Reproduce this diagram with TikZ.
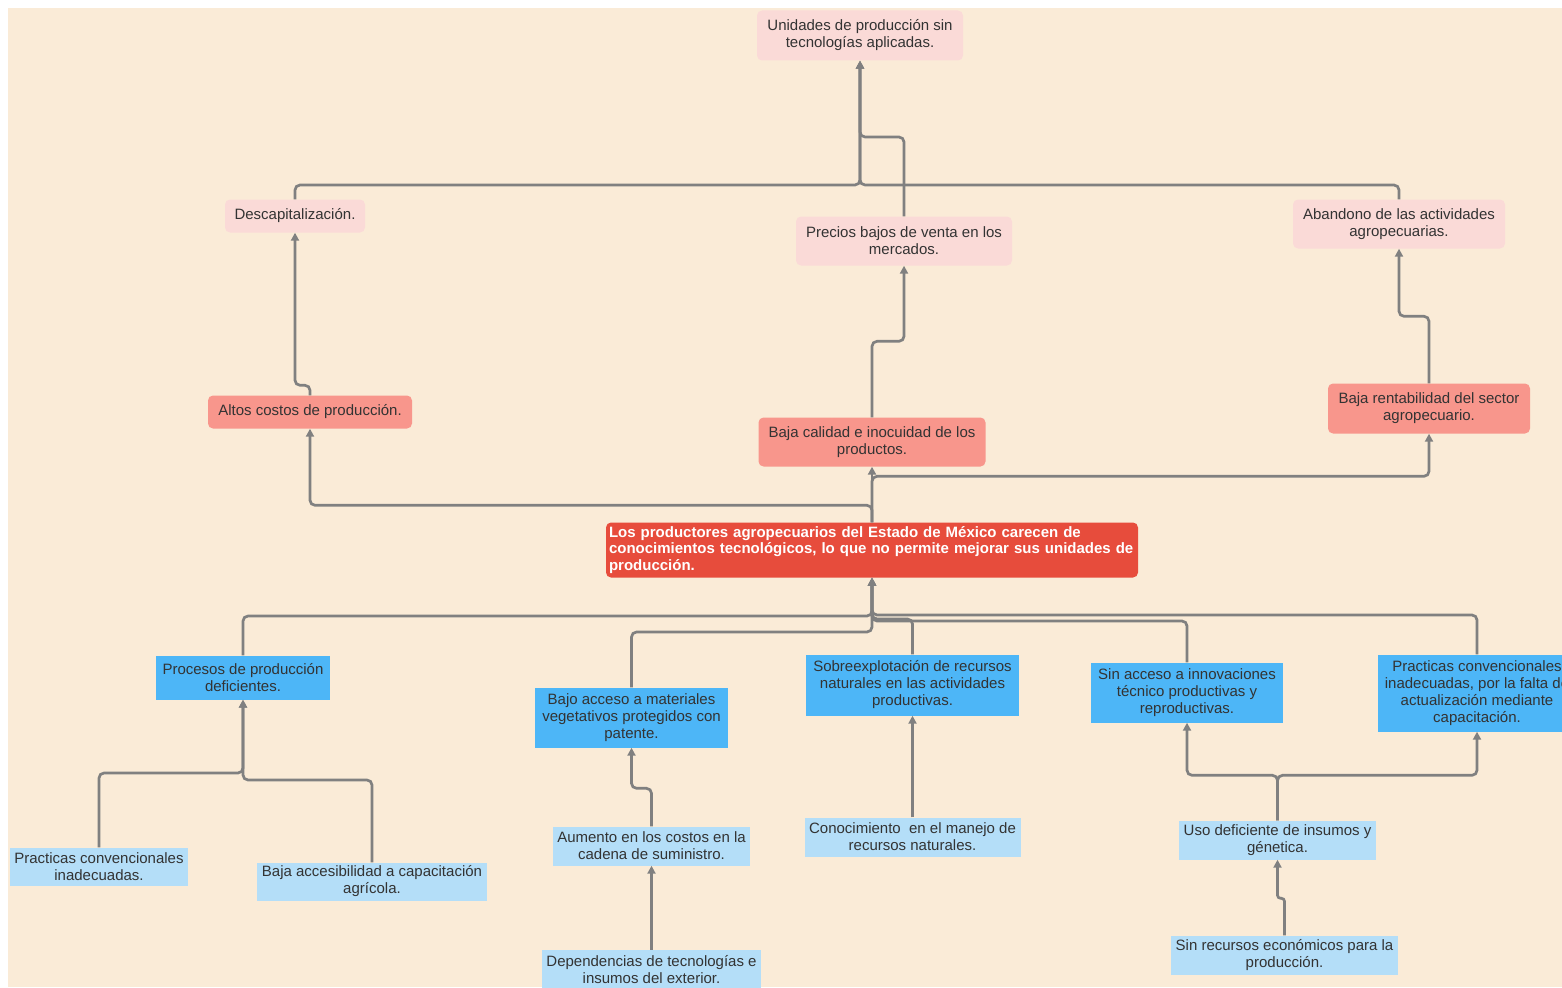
\documentclass[tikz,border=0pt]{standalone}
\usepackage{fontspec}
\setmainfont{Liberation Sans}
\usetikzlibrary{arrows.meta}
\definecolor{bgc}{RGB}{250,235,215}
\definecolor{pinkc}{RGB}{250,218,215}
\definecolor{salmonc}{RGB}{248,150,140}
\definecolor{redc}{RGB}{231,76,60}
\definecolor{bluec}{RGB}{77,182,247}
\definecolor{lbluec}{RGB}{180,222,248}
\definecolor{linec}{RGB}{128,128,128}
\definecolor{txtc}{RGB}{51,51,51}
\tikzset{
  box/.style={inner sep=0pt, align=center, text=txtc, font=\fontsize{15}{17}\selectfont},
  pinkbox/.style={box, fill=pinkc, rounded corners=5pt},
  salmonbox/.style={box, fill=salmonc, rounded corners=5pt},
  bluebox/.style={box, fill=bluec},
  lbluebox/.style={box, fill=lbluec},
  redbox/.style={inner sep=0pt, inner xsep=3pt, fill=redc, rounded corners=5pt, text=white, align=left,
     font=\fontsize{15}{16.5}\selectfont\bfseries},
  conn/.style={draw=linec, line width=2.7pt, rounded corners=5pt, -{Triangle[length=8pt,width=8pt]}},
}
\begin{document}
\begin{tikzpicture}[x=1pt,y=-1pt]
\useasboundingbox (0,0) rectangle (1562,987);
\clip (0,0) rectangle (1562,987);
\fill[white] (0,0) rectangle (1562,987);
\fill[bgc] (8,8) rectangle (1562,987);

% top effects
\node[pinkbox, minimum width=206pt, minimum height=50pt] (unid) at (860,35.5) {Unidades de producción sin\\tecnologías aplicadas.};
\node[pinkbox, minimum width=140pt, minimum height=33pt] (descap) at (295,216) {Descapitalización.};
\node[pinkbox, minimum width=216pt, minimum height=49pt] (precios) at (904,241) {Precios bajos de venta en los\\mercados.};
\node[pinkbox, minimum width=212pt, minimum height=49pt] (aband) at (1399,224) {Abandono de las actividades\\agropecuarias.};

% middle effects
\node[salmonbox, minimum width=204pt, minimum height=33pt] (altos) at (310,412) {Altos costos de producción.};
\node[salmonbox, minimum width=227pt, minimum height=49pt] (calidad) at (872,442) {Baja calidad e inocuidad de los\\productos.};
\node[salmonbox, minimum width=202pt, minimum height=50pt] (rent) at (1429,408.5) {Baja rentabilidad del sector\\agropecuario.};

% central problem
\node[redbox, text width=526pt, minimum height=55pt] (center) at (872,550) {Los productores agropecuarios del Estado de México carecen de\\conocimientos tecnológicos, lo que no permite mejorar sus unidades de\\producción.};

% causes
\node[bluebox, minimum width=174pt, minimum height=44pt] (procesos) at (243,677.5) {Procesos de producción\\deficientes.};
\node[bluebox, minimum width=193pt, minimum height=60pt] (bajo) at (631.5,717.5) {Bajo acceso a materiales\\vegetativos protegidos con\\patente.};
\node[bluebox, minimum width=213pt, minimum height=61pt] (sobre) at (912.5,685) {Sobreexplotación de recursos\\naturales en las actividades\\productivas.};
\node[bluebox, minimum width=192pt, minimum height=60pt] (sinacc) at (1187,692.5) {Sin acceso a innovaciones\\técnico productivas y\\reproductivas.};
\node[bluebox, minimum width=198pt, minimum height=77pt] (pcr) at (1477,693) {Practicas convencionales\\inadecuadas, por la falta de\\actualización mediante\\capacitación.};

% sub causes
\node[lbluebox, minimum width=178pt, minimum height=38pt] (pcl) at (99,866.5) {Practicas convencionales\\inadecuadas.};
\node[lbluebox, minimum width=230pt, minimum height=38pt] (bajacc) at (372,881.5) {Baja accesibilidad a capacitación\\agrícola.};
\node[lbluebox, minimum width=197pt, minimum height=39pt] (aumento) at (651.5,846) {Aumento en los costos en la\\cadena de suministro.};
\node[lbluebox, minimum width=219pt, minimum height=40pt] (depend) at (651.5,970) {Dependencias de tecnologías e\\insumos del exterior.};
\node[lbluebox, minimum width=216pt, minimum height=39pt] (conoc) at (912.5,837) {Conocimiento\ \ en el manejo de\\recursos naturales.};
\node[lbluebox, minimum width=197pt, minimum height=39pt] (uso) at (1277.5,840) {Uso deficiente de insumos y\\génetica.};
\node[lbluebox, minimum width=227pt, minimum height=39pt] (sinrec) at (1284.5,955) {Sin recursos económicos para la\\producción.};

% junction coordinates
\coordinate (jt) at (860,185);
\coordinate (jp) at (860,137);

% connectors: top
\draw[conn] (descap.north) |- (jt) -- (unid.south);
\draw[conn] (aband.north) |- (jt) -- (unid.south);
\draw[conn] (precios.north) |- (jp) -- (unid.south);
\draw[conn] (altos.north) -- ++(0,-10) -| (descap.south);
\draw[conn] (calidad.north) -- ++(0,-76) -| (precios.south);
\draw[conn] (rent.north) -- ++(0,-67) -| (aband.south);

% center to effects
\draw[conn] (center.north) -- ++(0,-17) -| (altos.south);
\draw[conn] (center.north) -- (calidad.south);
\draw[conn] (center.north) -- ++(0,-46) -| (rent.south);

% causes to center
\coordinate (c1) at (872,616);
\coordinate (c2) at (872,632);
\coordinate (c3) at (872,619);
\coordinate (c4) at (872,621);
\coordinate (c5) at (872,615);
\draw[conn] (procesos.north) |- (c1) -- (center.south);
\draw[conn] (bajo.north) |- (c2) -- (center.south);
\draw[conn] (sobre.north) |- (c3) -- (center.south);
\draw[conn] (sinacc.north) |- (c4) -- (center.south);
\draw[conn] (pcr.north) |- (c5) -- (center.south);

% sub causes
\coordinate (p1) at (243,773);
\coordinate (p2) at (243,780);
\draw[conn] (pcl.north) |- (p1) -- (procesos.south);
\draw[conn] (bajacc.north) |- (p2) -- (procesos.south);
\draw[conn] (aumento.north) -- ++(0,-38) -| (bajo.south);
\draw[conn] (depend.north) -- (aumento.south);
\draw[conn] (conoc.north) -- (sobre.south);
\draw[conn] (uso.north) -- ++(0,-45) -| (sinacc.south);
\draw[conn] (uso.north) -- ++(0,-45) -| (pcr.south);
\draw[conn, rounded corners=3pt] (sinrec.north) -- ++(0,-37) -| (uso.south);
\end{tikzpicture}
\end{document}
